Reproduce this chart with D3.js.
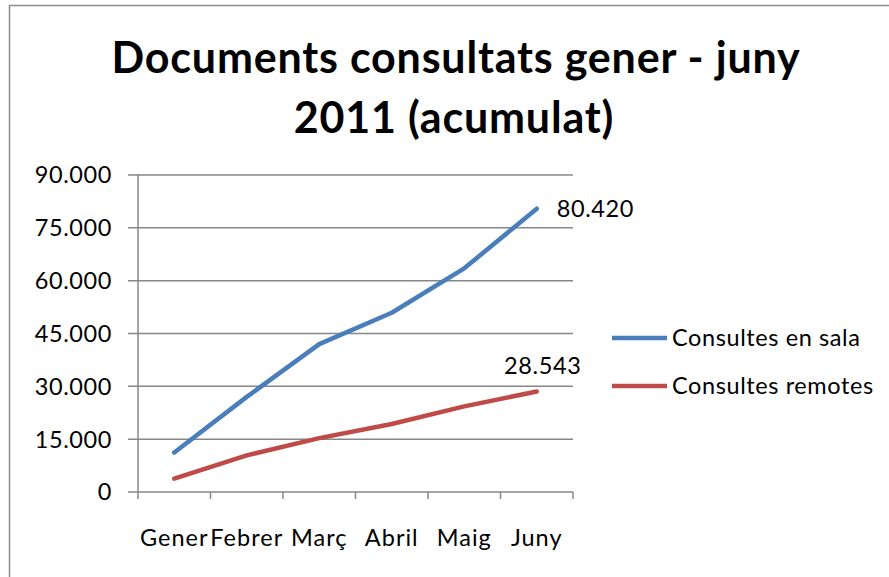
<!DOCTYPE html>
<html>
<head>
<meta charset="utf-8">
<script src="https://cdn.jsdelivr.net/npm/d3@7"></script>
<style>
  body { margin: 0; background: #fff; }
  svg text { font-family: Lato, "Open Sans", sans-serif; fill: #000; }
  .lbl { font-size: 23.5px; letter-spacing: 0.6px; }
</style>
</head>
<body>
<div class="chart"></div>
<script>
// months and accumulated values
var months = ["Gener", "Febrer", "Març", "Abril", "Maig", "Juny"];
var sala = [11200, 27000, 42000, 50900, 63500, 80420];
var remotes = [3800, 10400, 15300, 19300, 24300, 28543];
var yTicks = [0, 15000, 30000, 45000, 60000, 75000, 90000];
var seriesNames = ["Consultes en sala", "Consultes remotes"];
var seriesColors = ["#4a7ebb", "#be4b48"];

var width = 889, height = 577;
var fmt = function(v) { return d3.format(",")(v).replace(/,/g, "."); };

var svg = d3.select(".chart").append("svg")
  .attr("width", width)
  .attr("height", height);

// chart frame (only top and left edges show in the picture)
svg.append("path")
  .attr("d", "M9.5,577V5.5H889")
  .attr("fill", "none")
  .attr("stroke", "#8c8c8c")
  .attr("stroke-width", 1.5);

// title
var title = svg.append("text")
  .attr("text-anchor", "middle")
  .style("font-weight", "bold")
  .style("font-size", "43px")
  .style("letter-spacing", "0.8px");
title.append("tspan").attr("x", 456).attr("y", 73).text("Documents consultats gener - juny");
title.append("tspan").attr("x", 454).attr("y", 133).text("2011 (acumulat)");

var x = d3.scaleBand().domain(months).range([138, 573]);
var y = d3.scaleLinear().domain([0, 90000]).range([492, 175]);

// grid + y ticks
svg.append("g")
  .selectAll("line")
  .data(yTicks)
  .enter().append("line")
    .attr("x1", 128)
    .attr("x2", 573)
    .attr("y1", function(d) { return y(d); })
    .attr("y2", function(d) { return y(d); })
    .attr("stroke", "#878787")
    .attr("stroke-width", 1.5);

svg.append("g")
  .selectAll("text")
  .data(yTicks)
  .enter().append("text")
    .attr("class", "lbl")
    .attr("x", 112)
    .attr("y", function(d) { return y(d); })
    .attr("dy", "0.36em")
    .attr("text-anchor", "end")
    .text(fmt);

// y axis line
svg.append("line")
  .attr("x1", 138).attr("x2", 138)
  .attr("y1", 175).attr("y2", 499)
  .attr("stroke", "#878787")
  .attr("stroke-width", 1.5);

// x ticks at band edges
var edges = months.map(function(m) { return x(m) + x.bandwidth(); });
svg.append("g")
  .selectAll("line")
  .data(edges)
  .enter().append("line")
    .attr("x1", function(d) { return d; })
    .attr("x2", function(d) { return d; })
    .attr("y1", 492)
    .attr("y2", 499)
    .attr("stroke", "#878787")
    .attr("stroke-width", 1.5);

svg.append("g")
  .selectAll("text")
  .data(months)
  .enter().append("text")
    .attr("class", "lbl")
    .attr("x", function(d) { return x(d) + x.bandwidth() / 2; })
    .attr("y", 546)
    .attr("text-anchor", "middle")
    .style("letter-spacing", "1px")
    .text(function(d) { return d; });

// lines
var line = d3.line()
  .x(function(d, i) { return x(months[i]) + x.bandwidth() / 2; })
  .y(function(d) { return y(d); });

[sala, remotes].forEach(function(s, k) {
  svg.append("path")
    .datum(s)
    .attr("d", line)
    .attr("fill", "none")
    .attr("stroke", seriesColors[k])
    .attr("stroke-width", 4.5)
    .attr("stroke-linecap", "round")
    .attr("stroke-linejoin", "round");
});

// end labels
var lastX = x(months[5]) + x.bandwidth() / 2;
svg.append("text")
  .attr("class", "lbl")
  .attr("x", lastX + 20)
  .attr("y", y(sala[5]))
  .attr("dy", "0.36em")
  .text(fmt(sala[5]));
svg.append("text")
  .attr("class", "lbl")
  .attr("x", lastX + 6)
  .attr("y", y(remotes[5]) - 26)
  .attr("dy", "0.36em")
  .attr("text-anchor", "middle")
  .text(fmt(remotes[5]));

// legend
var legend = svg.append("g")
  .selectAll("g")
  .data(seriesNames)
  .enter().append("g")
    .attr("transform", function(d, i) { return "translate(612," + (338 + i * 48) + ")"; });
legend.append("line")
  .attr("x1", 0).attr("x2", 55)
  .attr("stroke", function(d, i) { return seriesColors[i]; })
  .attr("stroke-width", 4.5);
legend.append("text")
  .attr("class", "lbl")
  .attr("x", 60)
  .attr("dy", "0.36em")
  .text(function(d) { return d; });
</script>
</body>
</html>
